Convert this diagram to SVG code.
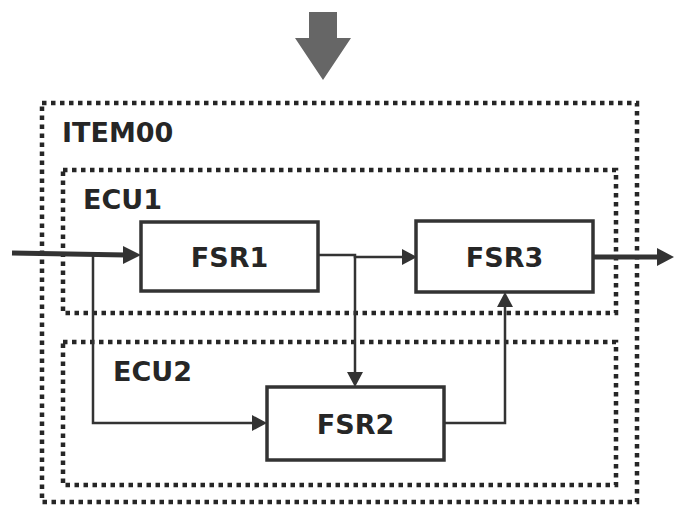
<svg xmlns="http://www.w3.org/2000/svg" width="674" height="506" viewBox="0 0 674 506">
<defs>
<style>
.dot{fill:none;stroke:#262626;stroke-width:4.5;stroke-dasharray:4.5 4.5}
.box{fill:#fff;stroke:#333;stroke-width:3.5}
.lbl{font-family:"DejaVu Sans",Verdana,sans-serif;font-weight:bold;font-size:27px;fill:#262626}
.ctr{text-anchor:middle}
.ln{fill:none;stroke:#333;stroke-width:2.5}
.thick{fill:none;stroke:#333;stroke-width:5}
</style>
<marker id="ah" markerWidth="10" markerHeight="10" refX="10" refY="5" orient="auto" markerUnits="userSpaceOnUse" viewBox="0 0 10 10">
<path d="M0,0 L10,5 L0,10 z" fill="#333"/>
</marker>
</defs>
<rect width="674" height="506" fill="#fff"/>
<g id="top-arrow">
<path d="M309,12 H337 V38 H351 L323,80 L295,38 H309 Z" fill="#666"/>
</g>
<g id="item00">
<rect class="dot" x="42" y="103" width="595" height="399"/>
<text class="lbl" x="62" y="142">ITEM00</text>
</g>
<g id="ecu1">
<rect class="dot" x="63" y="170" width="553" height="143"/>
<text class="lbl" x="83" y="209">ECU1</text>
</g>
<g id="ecu2">
<rect class="dot" x="63" y="342" width="553" height="143"/>
<text class="lbl" x="113" y="381">ECU2</text>
</g>
<g id="connectors">
<path class="thick" d="M12,253 L126,255"/>
<path d="M123,246 L141,255 L123,264 Z" fill="#333"/>
<path class="thick" d="M593,257 H660"/>
<path d="M657,248 L674,257 L657,266 Z" fill="#333"/>
<path class="ln" d="M93,255 V423 H252"/>
<path d="M252,415 L267,423 L252,431 Z" fill="#333"/>
<path class="ln" d="M318,255 H355 V257 H402"/>
<path d="M402,249 L417,257 L402,265 Z" fill="#333"/>
<path class="ln" d="M355,256 V372"/>
<path d="M347,372 L355,387 L363,372 Z" fill="#333"/>
<path class="ln" d="M444,423 H505 V307"/>
<path d="M497,307 L505,292 L513,307 Z" fill="#333"/>
</g>
<g id="fsr1">
<rect class="box" x="141" y="222" width="177" height="69"/>
<text class="lbl ctr" x="229.5" y="267">FSR1</text>
</g>
<g id="fsr3">
<rect class="box" x="416" y="221" width="177" height="71"/>
<text class="lbl ctr" x="504.5" y="267">FSR3</text>
</g>
<g id="fsr2">
<rect class="box" x="267" y="387" width="177" height="73"/>
<text class="lbl ctr" x="355.5" y="434">FSR2</text>
</g>
</svg>
